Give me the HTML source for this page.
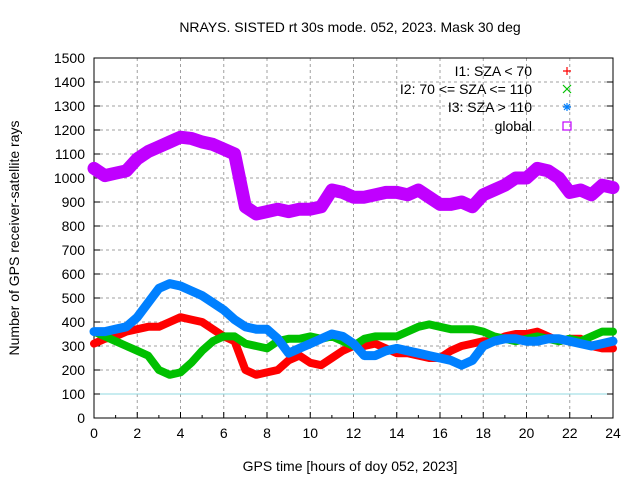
<!DOCTYPE html>
<html><head><meta charset="utf-8"><style>
body{margin:0;background:#fff}
svg{display:block;font-family:"Liberation Sans",sans-serif}
</style></head><body>
<svg id="chart" width="640" height="480">
<g id="grid"></g>
<g id="axes"></g>
<g id="series"></g>
<text x="350" y="32" font-size="14" text-anchor="middle">NRAYS. SISTED rt 30s mode. 052, 2023. Mask 30 deg</text>
<text x="350" y="471" font-size="14" text-anchor="middle">GPS time [hours of doy 052, 2023]</text>
<text transform="translate(19,238) rotate(-90)" font-size="14" text-anchor="middle">Number of GPS receiver-satellite rays</text>
<g id="legend"></g>
</svg>
<script>
const hours = [0,0.5,1,1.5,2,2.5,3,3.5,4,4.5,5,5.5,6,6.5,7,7.5,8,8.5,9,9.5,10,10.5,11,11.5,12,12.5,13,13.5,14,14.5,15,15.5,16,16.5,17,17.5,18,18.5,19,19.5,20,20.5,21,21.5,22,22.5,23,23.5,24];
const i1Values = [310,330,340,360,370,380,380,400,420,410,400,370,340,320,200,180,190,200,240,260,230,220,250,280,300,300,310,290,270,270,260,250,250,280,300,310,320,320,340,350,350,360,340,320,330,330,300,290,290];
const i2Values = [360,340,320,300,280,260,200,180,190,230,280,320,340,340,310,300,290,320,330,330,340,330,340,320,300,330,340,340,340,360,380,390,380,370,370,370,360,340,330,320,330,340,330,320,330,320,340,360,360];
const i3Values = [360,360,370,380,420,480,540,560,550,530,510,480,450,410,380,370,370,330,270,290,310,330,350,340,310,260,260,280,290,280,270,260,250,240,220,240,300,320,330,330,320,320,330,330,320,310,300,310,320];
const globalValues = [1040,1010,1020,1030,1080,1110,1130,1150,1170,1165,1150,1140,1120,1100,880,850,860,870,860,870,870,880,950,940,920,920,930,940,940,930,950,920,890,890,900,880,930,950,970,1000,1000,1040,1030,1000,940,950,930,970,960];
const xTicks = [0,2,4,6,8,10,12,14,16,18,20,22,24];
const yTicks = [0,100,200,300,400,500,600,700,800,900,1000,1100,1200,1300,1400,1500];
const seriesNames = ["I1: SZA < 70","I2: 70 <= SZA <= 110","I3: SZA > 110","global"];

const L=94,R=613,T=58,B=418;
const xs=h=>L+(R-L)*h/24;
const ys=v=>B-(B-T)*v/1500;
const NS="http://www.w3.org/2000/svg";
function mk(tag,parent,attrs){const e=document.createElementNS(NS,tag);for(const k in attrs)e.setAttribute(k,attrs[k]);parent.appendChild(e);return e;}
const grid=document.getElementById('grid'),axes=document.getElementById('axes'),ser=document.getElementById('series'),leg=document.getElementById('legend');

xTicks.forEach(t=>{
  const x=xs(t);
  if(t>0&&t<24){const g=mk('line',grid,{x1:x,x2:x,y1:T,y2:B,stroke:'#a0a0a0','stroke-dasharray':'3,3','stroke-width':1});
  
  }
  const tk=mk('line',axes,{x1:x,x2:x,y1:B,y2:B-6,stroke:'#000'});
  
  
  const tx=mk('text',axes,{x:x,y:B+20,'font-size':14,'text-anchor':'middle'});tx.textContent=t;
  
  
});
for(let h=1;h<24;h+=2){const m=mk('line',axes,{x1:xs(h),x2:xs(h),y1:B,y2:B-3,stroke:'#000'});
  
  }
yTicks.forEach(t=>{
  const y=ys(t);
  if(t>0&&t<1500&&t!==100){const g=mk('line',grid,{x1:L,x2:R,y1:y,y2:y,stroke:'#a0a0a0','stroke-dasharray':'3,3','stroke-width':1});
  
  }
  const tk=mk('line',axes,{x1:L,x2:L+6,y1:y,y2:y,stroke:'#000'});
  
  
  const tk2=mk('line',axes,{x1:R,x2:R-6,y1:y,y2:y,stroke:'#000'});
  
  
  const tx=mk('text',axes,{x:L-9,y:y+5,'font-size':14,'text-anchor':'end'});tx.textContent=t;
  
  
});
const ref=mk('line',grid,{x1:L,x2:R,y1:ys(100),y2:ys(100),stroke:'#90d8e0','stroke-width':1});


const frame=mk('rect',axes,{x:L,y:T,width:R-L,height:B-T,fill:'none',stroke:'#000'});



const colors=['#ff0000','#00c000','#0080ff','#c000ff'];
const widths=[8,8,9,13];
const names=['series-i1','series-i2','series-i3','series-global'];
[i1Values,i2Values,i3Values,globalValues].forEach((vals,si)=>{
  const pts=hours.map((h,i)=>xs(h).toFixed(1)+','+ys(vals[i]).toFixed(1)).join(' ');
  const pl=mk('polyline',ser,{points:pts,fill:'none',stroke:colors[si],'stroke-width':widths[si],'stroke-linejoin':'round','stroke-linecap':'round'});
  
  
});

// legend
const ly=[71,89,107,126];
seriesNames.forEach((n,i)=>{
  const t=mk('text',leg,{x:532,y:ly[i]+5,'font-size':14,'text-anchor':'end'});t.textContent=n;
  
  
  const cx=567,cy=ly[i],c=colors[i];
  let m;
  if(i===0){m=mk('path',leg,{d:`M${cx-4} ${cy}h8M${cx} ${cy-4}v8`,stroke:c,'stroke-width':1.2});}
  else if(i===1){m=mk('path',leg,{d:`M${cx-4} ${cy-4}l8 8M${cx-4} ${cy+4}l8 -8`,stroke:c,'stroke-width':1.2});}
  else if(i===2){m=mk('path',leg,{d:`M${cx-4} ${cy}h8M${cx} ${cy-4}v8M${cx-3} ${cy-3}l6 6M${cx-3} ${cy+3}l6 -6`,stroke:c,'stroke-width':1.2});}
  else {m=mk('rect',leg,{x:cx-4,y:cy-4,width:8,height:8,fill:'none',stroke:c,'stroke-width':1.2});}
  
  
});
</script>
</body></html>
